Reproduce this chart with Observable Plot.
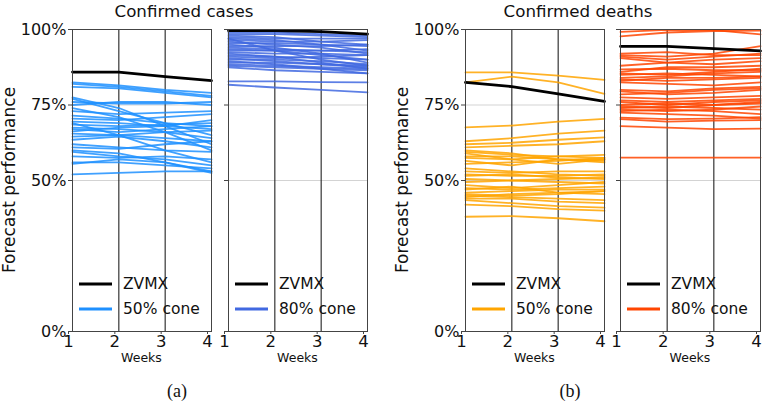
<!DOCTYPE html>
<html>
<head>
<meta charset="utf-8">
<script src="https://cdn.jsdelivr.net/npm/d3@7"></script>
<script src="https://cdn.jsdelivr.net/npm/@observablehq/plot@0.6"></script>
<style>
  html, body { margin: 0; padding: 0; background: white; }
  #chart { position: relative; width: 763px; height: 405px; overflow: hidden; font-family: "DejaVu Sans", sans-serif; }
  #chart > svg { position: absolute; left: 0; top: 0; }
</style>
</head>
<body>
<div id="chart"></div>
<script>
const weeks = [1, 2, 3, 4];
const yTicks = [0, 50, 75, 100];
const groupTitles = ["Confirmed cases", "Confirmed deaths"];
const captions = ["(a)", "(b)"];
const coneLabels = ["50% cone", "80% cone", "50% cone", "80% cone"];
const modelName = "ZVMX";
const colors = ["#1E90FF", "#4169E1", "#FFA500", "#FF4500"];

// ZVMX performance (%) per week, per panel
const casesZvmx50 = [85.9, 85.9, 84.4, 83.1];
const casesZvmx80 = [99.6, 99.6, 99.3, 98.5];
const deathsZvmx50 = [82.5, 81.1, 78.7, 76.2];
const deathsZvmx80 = [94.4, 94.4, 93.7, 92.9];

// other models (%) per week
const casesCone50 = [
  [82.5, 81.5, 80.0, 79.0], [82.0, 81.0, 79.5, 78.0], [81.0, 80.5, 79.0, 77.5],
  [77.5, 74.0, 68.0, 62.0], [77.0, 73.0, 69.0, 65.0], [76.0, 75.5, 75.5, 76.0],
  [75.0, 76.0, 76.0, 75.0], [73.0, 72.0, 72.5, 73.0], [71.5, 70.5, 69.0, 68.0],
  [70.5, 70.0, 71.0, 72.0], [69.5, 69.0, 68.0, 67.0], [68.5, 68.0, 68.5, 69.0],
  [67.5, 67.0, 66.0, 64.0], [67.0, 66.0, 67.0, 68.0], [66.3, 67.5, 68.0, 70.0],
  [65.5, 65.0, 64.0, 63.0], [64.5, 65.0, 66.0, 66.5], [63.5, 64.5, 63.0, 61.0],
  [62.0, 61.0, 60.0, 59.5], [61.0, 60.5, 62.0, 63.0], [59.5, 58.0, 57.0, 55.0],
  [58.0, 57.5, 58.0, 57.0], [56.0, 56.0, 55.0, 54.0], [55.5, 57.0, 56.0, 53.0],
  [52.0, 52.5, 53.0, 53.0], [69.0, 65.0, 60.0, 56.0], [74.0, 71.0, 66.0, 60.0],
  [60.0, 59.0, 56.0, 52.5]
];
const casesCone80 = [
  [99.0, 99.0, 98.5, 98.0], [98.5, 98.5, 98.0, 97.5], [98.0, 97.5, 96.0, 95.0],
  [97.5, 97.0, 97.0, 97.0], [97.0, 96.5, 95.0, 93.0], [96.5, 96.0, 96.0, 96.5],
  [96.0, 95.0, 94.0, 92.0], [95.5, 95.5, 95.0, 94.5], [95.0, 94.0, 92.0, 89.0],
  [94.5, 94.5, 94.5, 95.0], [94.0, 93.5, 93.0, 93.5], [93.5, 93.0, 91.5, 90.0],
  [93.0, 93.0, 93.0, 92.5], [92.5, 92.0, 92.0, 91.5], [92.0, 91.0, 89.0, 87.0],
  [91.5, 91.0, 90.5, 90.0], [91.0, 90.5, 91.0, 91.5], [90.5, 89.5, 88.5, 87.5],
  [90.0, 90.0, 89.5, 88.5], [89.5, 88.5, 87.0, 85.5], [89.0, 89.0, 88.5, 88.0],
  [88.5, 88.0, 87.5, 87.0], [88.0, 87.5, 87.0, 86.5], [87.5, 86.5, 86.0, 85.5],
  [97.0, 93.0, 90.0, 88.0], [82.8, 82.8, 82.6, 82.5], [81.7, 80.8, 80.0, 79.2]
];
const deathsCone50 = [
  [85.8, 85.8, 84.7, 83.3], [82.5, 84.4, 82.5, 78.7], [67.6, 68.2, 69.5, 70.4],
  [63.0, 64.0, 65.5, 66.5], [62.0, 62.5, 63.5, 64.3], [61.0, 61.5, 62.0, 63.0],
  [60.0, 59.0, 57.0, 56.0], [59.5, 58.5, 58.0, 57.5], [59.0, 57.0, 55.5, 57.0],
  [58.0, 58.0, 57.0, 56.5], [57.5, 57.0, 58.0, 58.5], [56.5, 55.0, 57.0, 57.0],
  [55.5, 56.0, 56.5, 57.5], [54.0, 53.0, 52.0, 51.5], [53.0, 52.5, 53.0, 53.0],
  [52.0, 51.5, 51.5, 52.0], [51.5, 52.0, 51.0, 50.5], [50.5, 50.0, 50.5, 51.0],
  [49.5, 50.0, 49.5, 49.0], [48.5, 47.5, 48.5, 49.5], [47.5, 47.0, 47.5, 48.0],
  [47.0, 48.0, 46.0, 45.5], [46.0, 46.5, 47.0, 47.0], [45.5, 45.0, 45.5, 46.5],
  [45.0, 44.5, 44.0, 43.5], [44.5, 45.5, 46.0, 46.5], [44.0, 44.0, 43.0, 42.5],
  [43.5, 42.5, 41.5, 41.0], [42.0, 41.5, 40.5, 40.0], [38.0, 38.2, 37.5, 36.5]
];
const deathsCone80 = [
  [99.2, 99.9, 99.8, 98.4], [97.7, 99.0, 99.5, 99.6], [92.0, 92.5, 91.5, 91.5],
  [91.5, 91.0, 92.0, 94.5], [91.0, 90.0, 91.0, 92.0], [90.5, 89.0, 88.5, 89.5],
  [88.0, 89.0, 90.0, 90.5], [86.8, 87.0, 86.5, 86.5], [86.0, 87.5, 87.5, 88.0],
  [85.5, 85.0, 86.0, 87.0], [85.0, 85.5, 85.0, 84.5], [84.0, 84.5, 85.5, 86.0],
  [83.5, 83.0, 83.5, 84.0], [83.0, 84.0, 84.0, 84.5], [82.5, 82.0, 81.5, 82.5],
  [80.0, 79.5, 80.5, 81.0], [79.5, 78.5, 79.0, 80.0], [78.5, 79.0, 80.0, 80.5],
  [77.5, 77.0, 77.5, 78.0], [76.5, 76.0, 76.5, 77.0], [76.0, 75.0, 76.0, 76.5],
  [75.0, 75.5, 75.0, 75.5], [74.5, 74.0, 75.0, 76.0], [74.0, 74.5, 74.0, 73.5],
  [73.5, 73.0, 73.5, 74.5], [73.0, 73.5, 73.0, 72.0], [72.5, 72.0, 71.5, 70.5],
  [70.8, 70.3, 70.5, 71.0], [70.3, 69.5, 69.8, 70.0], [68.0, 67.5, 67.0, 67.2],
  [57.6, 57.6, 57.6, 57.6]
];

const W = 763, H = 405;
const plotTop = 29, plotBottom = 331;
const panels = [
  {left: 72, right: 211, cone: casesCone50, zvmx: casesZvmx50, color: colors[0], label: coneLabels[0], showY: true},
  {left: 228, right: 367, cone: casesCone80, zvmx: casesZvmx80, color: colors[1], label: coneLabels[1], showY: false},
  {left: 465, right: 604, cone: deathsCone50, zvmx: deathsZvmx50, color: colors[2], label: coneLabels[2], showY: true},
  {left: 620, right: 760, cone: deathsCone80, zvmx: deathsZvmx80, color: colors[3], label: coneLabels[3], showY: false}
];

const chart = document.getElementById("chart");

function toRows(series) {
  const rows = [];
  series.forEach((vals, i) => vals.forEach((v, j) => rows.push({id: i, week: weeks[j], value: v})));
  return rows;
}

for (const p of panels) {
  const coneRows = toRows(p.cone);
  const zRows = toRows([p.zvmx]);
  const svg = Plot.plot({
    width: W, height: H,
    marginLeft: p.left, marginRight: W - p.right, marginTop: plotTop, marginBottom: H - plotBottom,
    style: {background: "transparent", fontFamily: "DejaVu Sans, sans-serif", overflow: "visible", color: "#111"},
    x: {domain: [1, 4]},
    y: {domain: [0, 100]},
    marks: [
      Plot.gridY([50, 75], {stroke: "#b0b0b0", strokeOpacity: 0.7, strokeWidth: 0.8}),
      Plot.ruleX([2, 3], {stroke: "#222", strokeWidth: 1.1}),
      Plot.line(coneRows, {x: "week", y: "value", z: "id", stroke: p.color, strokeWidth: 1.8, strokeOpacity: 0.85}),
      Plot.line(zRows, {x: "week", y: "value", z: "id", stroke: "black", strokeWidth: 2.8}),
      Plot.frame({stroke: "#444", strokeWidth: 1}),
      Plot.axisY(yTicks, {
        tickSize: 4, tickPadding: 2, fontSize: 16, label: null, stroke: "#444",
        tickFormat: p.showY ? (d => d + "%") : (() => "")
      }),
      Plot.axisX(weeks, {
        tickSize: 3, tickPadding: 1, fontSize: 16.5, label: null, dx: -4, stroke: "#444",
        tickFormat: d => String(d)
      })
    ]
  });
  chart.appendChild(svg);
}

// overlay for titles, axis labels, legends, captions
const ov = d3.select(chart).append("svg")
  .attr("width", W).attr("height", H)
  .style("font-family", "DejaVu Sans, sans-serif");

const titleX = [184, 578];
groupTitles.forEach((t, i) => {
  ov.append("text").attr("x", titleX[i]).attr("y", 17).attr("text-anchor", "middle")
    .attr("font-size", 16.7).attr("fill", "#111").text(t);
});
const capX = [177, 570];
captions.forEach((t, i) => {
  ov.append("text").attr("x", capX[i]).attr("y", 397).attr("text-anchor", "middle")
    .attr("font-size", 18).attr("font-family", "Liberation Serif, DejaVu Serif, serif").attr("fill", "#111").text(t);
});
[panels[0].left, panels[2].left].forEach(l => {
  const cx = l - 63, cy = (plotTop + plotBottom) / 2;
  ov.append("text").attr("transform", `translate(${cx},${cy}) rotate(-90)`)
    .attr("text-anchor", "middle").attr("dy", "0.35em").attr("font-size", 17).attr("fill", "#111")
    .text("Forecast performance");
});
panels.forEach(p => {
  const cx = (p.left + p.right) / 2;
  ov.append("text").attr("x", cx).attr("y", 362).attr("text-anchor", "middle")
    .attr("font-size", 12.5).attr("fill", "#111").text("Weeks");
  const lx = p.left + 7;
  const rowsY = [284, 309];
  const items = [{c: "black", t: modelName, w: 3}, {c: p.color, t: p.label, w: 3}];
  items.forEach((it, k) => {
    ov.append("line").attr("x1", lx).attr("x2", lx + 33).attr("y1", rowsY[k]).attr("y2", rowsY[k])
      .attr("stroke", it.c).attr("stroke-width", it.w);
    ov.append("text").attr("x", lx + 44).attr("y", rowsY[k]).attr("dy", "0.35em")
      .attr("font-size", 15.5).attr("fill", "#111").text(it.t);
  });
});
</script>
</body>
</html>
